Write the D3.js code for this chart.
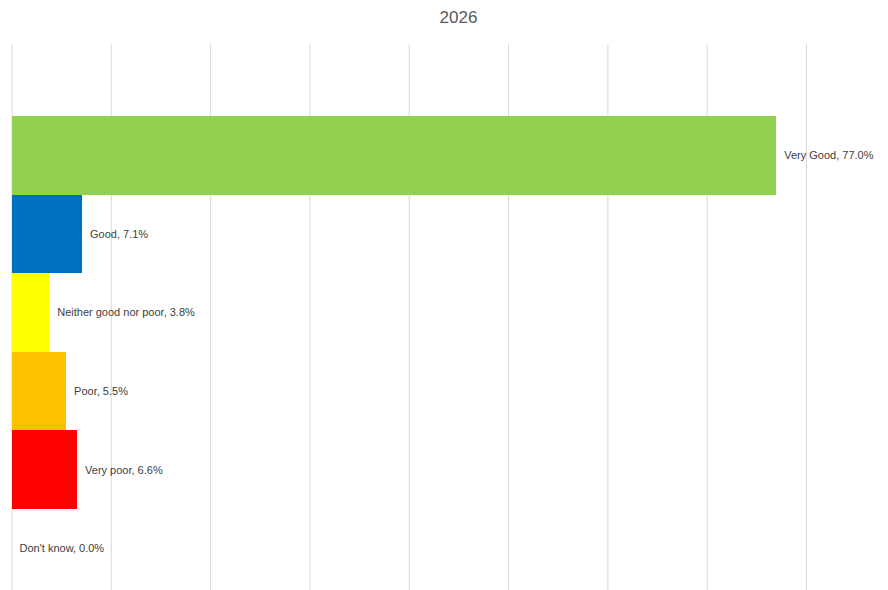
<!DOCTYPE html>
<html>
<head>
<meta charset="utf-8">
<script src="https://cdn.jsdelivr.net/npm/d3@7"></script>
<style>
  html, body { margin: 0; padding: 0; background: #fff; }
  svg { display: block; font-family: "Liberation Sans", Arial, sans-serif; }
</style>
</head>
<body>
<div id="chart"></div>
<script>
const title = "2026";
const categories = ["Very Good", "Good", "Neither good nor poor", "Poor", "Very poor", "Don't know"];
const values = [77.0, 7.1, 3.8, 5.5, 6.6, 0.0];
const gridTicks = [0, 10, 20, 30, 40, 50, 60, 70, 80];

const barColors = ["#92d050", "#0070c0", "#ffff00", "#ffc000", "#ff0000", "#a5a5a5"];

const width = 888;
const height = 590;
const plot = {left: 11.5, right: 806, top: 44, bottom: 590};

const svg = d3.create("svg")
    .attr("width", width)
    .attr("height", height);

const x = d3.scaleLinear()
    .domain([0, 80])
    .range([plot.left, plot.right]);

const y = d3.scaleBand()
    .domain(categories)
    .range([116, 587.6])
    .padding(0);

// vertical gridlines
svg.append("g")
    .attr("transform", `translate(0,${plot.top})`)
    .call(d3.axisBottom(x)
        .tickValues(gridTicks)
        .tickSize(plot.bottom - plot.top)
        .tickFormat(""))
    .call(g => g.select(".domain").remove())
    .call(g => g.selectAll(".tick line")
        .attr("stroke", "#d9d9d9")
        .attr("stroke-width", 1));

svg.append("g")
    .selectAll("rect")
    .data(values)
    .join("rect")
    .attr("x", x(0))
    .attr("y", (d, i) => y(categories[i]))
    .attr("width", d => x(d) - x(0))
    .attr("height", y.bandwidth())
    .attr("fill", (d, i) => barColors[i])
    .attr("shape-rendering", "crispEdges");

svg.append("g")
    .selectAll("text")
    .data(values)
    .join("text")
    .attr("x", d => x(d) + 8)
    .attr("y", (d, i) => y(categories[i]) + y.bandwidth() / 2)
    .attr("dy", "0.35em")
    .attr("fill", "#404040")
    .attr("font-size", "11px")
    .text((d, i) => `${categories[i]}, ${d.toFixed(1)}%`);

svg.append("text")
    .attr("x", 458.5)
    .attr("y", 23)
    .attr("text-anchor", "middle")
    .attr("fill", "#595959")
    .attr("font-size", "17px")
    .text(title);

d3.select("#chart").append(() => svg.node());
</script>
</body>
</html>
